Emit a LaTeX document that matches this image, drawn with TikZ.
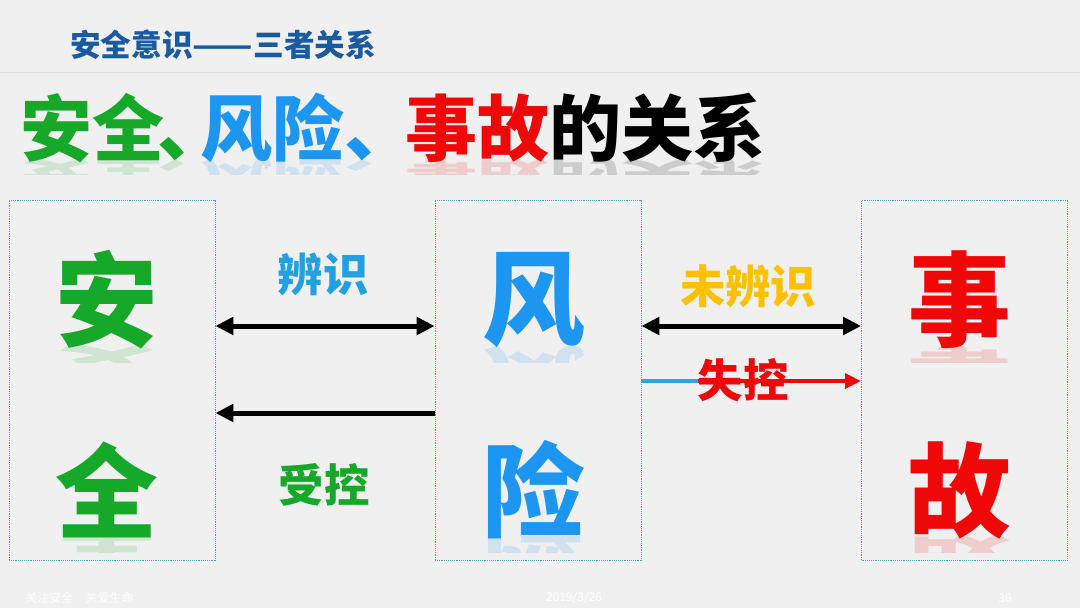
\documentclass[tikz,border=0pt]{standalone}
\usepackage{fontspec}
\usepackage{xcolor}
\usepackage{tikz}
\usetikzlibrary{arrows.meta, positioning}
\newfontfamily\cjk{Noto Sans CJK SC}
\definecolor{bggray}{RGB}{240, 240, 240}
\definecolor{rulegray}{RGB}{222, 222, 222}
\definecolor{headblue}{RGB}{25, 90, 160}
\definecolor{safegreen}{RGB}{22, 168, 40}
\definecolor{riskblue}{RGB}{28, 150, 240}
\definecolor{labelblue}{RGB}{35, 160, 225}
\definecolor{accred}{RGB}{240, 8, 8}
\definecolor{warnyellow}{RGB}{255, 192, 0}
\definecolor{boxteal}{RGB}{70, 160, 195}
\definecolor{lineblue}{RGB}{40, 168, 225}
\newcommand{\titletext}{{\color{safegreen}安全\hspace{-0.1em}、\hspace{-0.4em}}%
    {\color{riskblue}风险、\hspace{-0.15em}}{\color{accred}事故}的关系}

\begin{document}
\begin{tikzpicture}[
    x=0.75pt, y=-0.75pt,
    column/.style={draw=boxteal, line width=0.7pt, dash pattern=on 0.7pt off 0.7pt,
                   minimum width=154.5pt, minimum height=270pt, inner sep=0pt},
    bigchar/.style={font=\cjk\bfseries\fontsize{77}{77}\selectfont, inner sep=0pt},
    titlefont/.style={font=\cjk\bfseries\fontsize{54}{54}\selectfont, inner sep=0pt, anchor=base west},
    tag/.style={font=\cjk\bfseries\fontsize{34}{34}\selectfont, inner sep=0pt},
    link/.style={line width=3.75pt, -{Triangle[length=13.5pt, width=13pt]}},
    twoway/.style={line width=3.75pt, {Triangle[length=13.5pt, width=13pt]}-{Triangle[length=13.5pt, width=13pt]}},
    footnote/.style={font=\cjk\fontsize{9}{9}\selectfont, text=white, inner sep=0pt}
]
    \useasboundingbox (0,0) rectangle (1080,608);
    \fill[bggray] (0,0) rectangle (1080,608);

    % header
    \node[font=\cjk\bfseries\fontsize{23}{23}\selectfont, text=headblue,
          inner sep=0pt, anchor=west] (head) at (70,45)
          {安全意识\scalebox{1.15}[1]{——}三者关系};
    \draw[rulegray, line width=0.75pt] (0,72) coordinate (rulea) -- (1080,72) coordinate (ruleb);

    % title with its reflection
    \node[titlefont] (title) at (20,155) {\titletext};
    \begin{scope}
        \clip (0,160) rectangle (800,174);
        \node[titlefont, yscale=-0.5, opacity=0.15] (titlerefl) at (20,162.5) {\titletext};
    \end{scope}

    % three columns
    \node[column] (safe) at (112,380) {};
    \node[column] (risk) at (538,380) {};
    \node[column] (acc) at (964.5,380) {};

    \foreach \x/\y/\c/\col/\n in {107/300/安/safegreen/an, 107/490/全/safegreen/quan,
        534/300/风/riskblue/feng, 534/490/险/riskblue/xian,
        960/300/事/accred/shi, 960/490/故/accred/gu}{
        \node[bigchar, text=\col] (\n) at (\x,\y) {\c};
        \begin{scope}
            \clip (\x-60,\y+46) rectangle (\x+60,\y+62);
            \node[bigchar, text=\col, yscale=-0.5, opacity=0.15] (\n r) at (\x,\y+69) {\c};
        \end{scope}
    }

    % links between columns
    \draw[twoway] ([yshift=40.5pt]safe.east) -- ([yshift=40.5pt]risk.west);
    \draw[link] ([yshift=-24.75pt]risk.west) -- ([yshift=-24.75pt]safe.east);
    \draw[twoway] ([yshift=40.5pt]risk.east) -- ([yshift=40.5pt]acc.west);

    \coordinate (lose) at ([yshift=-0.75pt]risk.east -| 698,0);
    \draw[lineblue, line width=3pt] ([yshift=-0.75pt]risk.east) -- (lose);
    \draw[accred, line width=3pt, -{Triangle[length=12pt, width=11pt]}]
        (lose) -- ([yshift=-0.75pt]acc.west);

    \node[tag, text=labelblue] (bs) at (323,274) {辨识};
    \node[tag, text=safegreen] (sk) at (324,485) {受控};
    \node[tag, text=warnyellow] (wbs) at (748,286) {未辨识};
    \node[tag, text=accred] (shk) at (743,380) {失控};

    % footer
    \node[footnote, anchor=west] (slogan) at (25,598) {关注安全\quad 关爱生命};
    \node[footnote] (date) at (574,598) {2019/3/26};
    \node[footnote] (page) at (1005,598) {36};
\end{tikzpicture}
\end{document}
